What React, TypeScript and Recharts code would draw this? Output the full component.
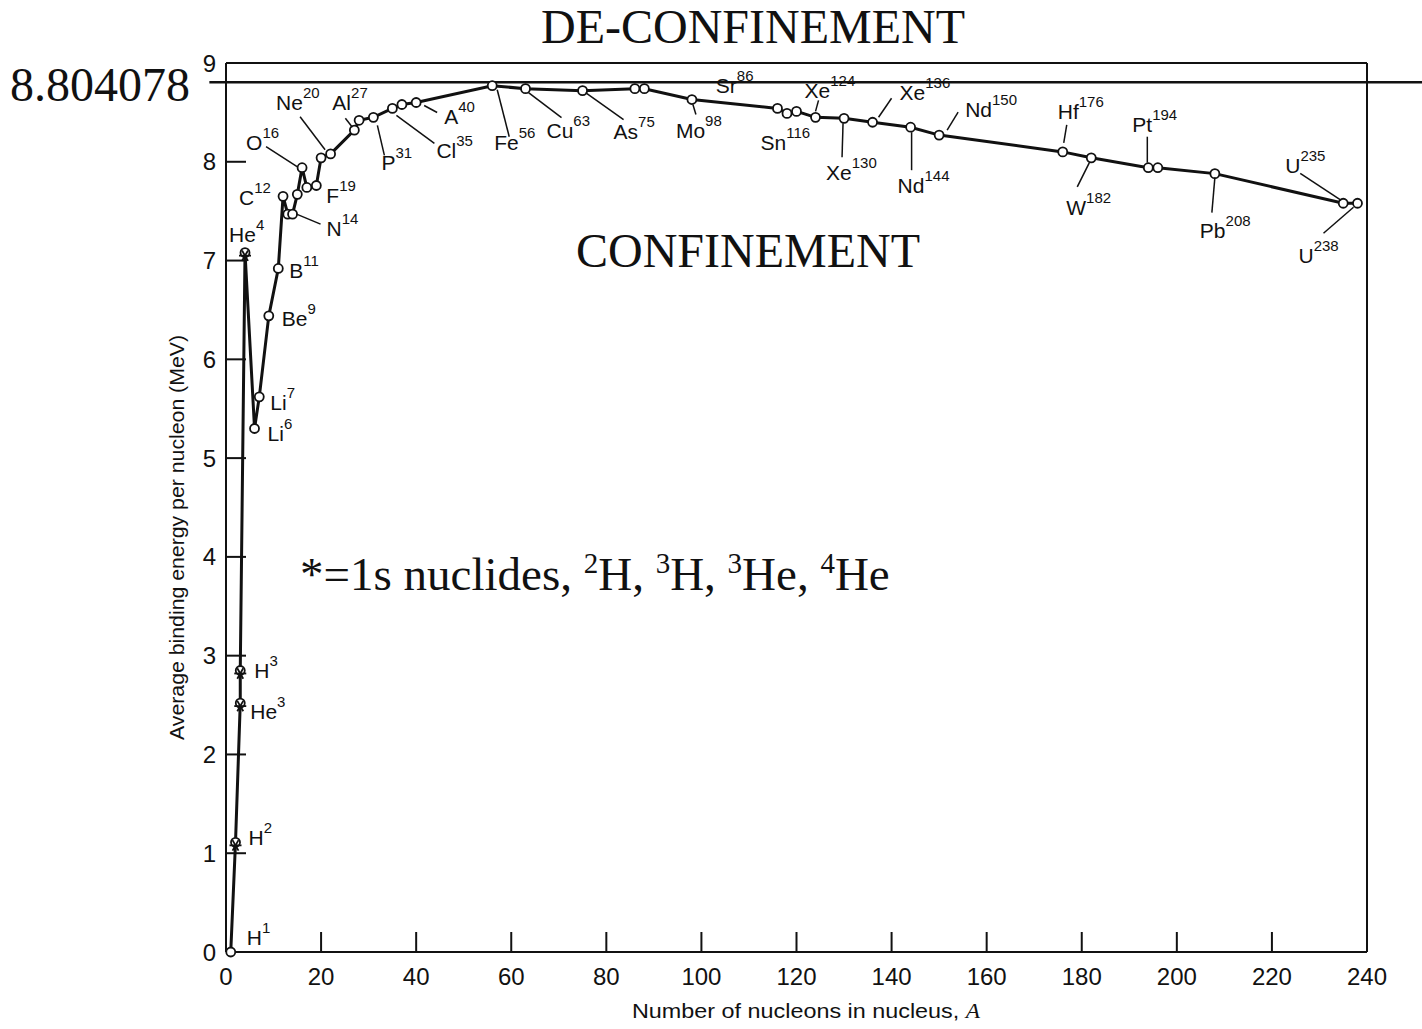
import React from "react";
import { LineChart, Line, XAxis, YAxis, ReferenceLine } from "recharts";

// nuclides along the curve, in plotting order
const symbols = ["H", "H", "He", "H", "He", "Li", "Li", "Be", "B", "C", "C", "N", "N", "O", "O", "F", "Ne", "Ne", "Al", "Si", "P", "Cl", "Cl", "A", "Fe", "Cu", "As", "Sr", "Sr", "Mo", "Sn", "Sn", "Sn", "Xe", "Xe", "Xe", "Nd", "Nd", "Hf", "W", "Pt", "Pt", "Pb", "U", "U"];
const massNumbers = [1, 2, 3, 3, 4, 6, 7, 9, 11, 12, 13, 14, 15, 16, 17, 19, 20, 22, 27, 28, 31, 35, 37, 40, 56, 63, 75, 86, 88, 98, 116, 118, 120, 124, 130, 136, 144, 150, 176, 182, 194, 196, 208, 235, 238];
const bindingEnergy = [0, 1.11, 2.52, 2.85, 7.08, 5.3, 5.62, 6.44, 6.92, 7.65, 7.47, 7.47, 7.67, 7.94, 7.74, 7.76, 8.04, 8.08, 8.32, 8.42, 8.45, 8.54, 8.58, 8.6, 8.77, 8.74, 8.72, 8.74, 8.74, 8.63, 8.54, 8.49, 8.51, 8.45, 8.44, 8.4, 8.35, 8.27, 8.1, 8.04, 7.94, 7.94, 7.88, 7.58, 7.58];
const oneSNuclides = ["H2", "H3", "He3", "He4"];

const xTicks = [0, 20, 40, 60, 80, 100, 120, 140, 160, 180, 200, 220, 240];
const yTicks = [0, 1, 2, 3, 4, 5, 6, 7, 8, 9];
const confinementLimit = 8.804078;

const data = massNumbers.map((a, i) => ({
  name: symbols[i] + a,
  symbol: symbols[i],
  a,
  e: bindingEnergy[i],
}));

// label placement relative to the marker (px): text offset and optional leader line
const labelLayout: Record<string, { dx: number; dy: number; lead?: number[] }> = {
  H1: { dx: 16, dy: -7 },
  H2: { dx: 13, dy: 3 },
  H3: { dx: 14, dy: 8 },
  He3: { dx: 10, dy: 16 },
  He4: { dx: -16, dy: -11 },
  Li6: { dx: 13, dy: 13 },
  Li7: { dx: 11, dy: 13 },
  Be9: { dx: 13, dy: 10 },
  B11: { dx: 11, dy: 10 },
  C12: { dx: -44, dy: 9 },
  N14: { dx: 34, dy: 22, lead: [28, 10, 4, 0] },
  O16: { dx: -56, dy: -18, lead: [-36, -21, -5, -1] },
  F19: { dx: 10, dy: 18 },
  Ne20: { dx: -45, dy: -48, lead: [-21, -41, 4, -8] },
  Al27: { dx: -22, dy: -20, lead: [-9, -12, -2, -3] },
  P31: { dx: 8, dy: 53, lead: [11, 38, 4, 8] },
  Cl35: { dx: 44, dy: 50, lead: [42, 35, 4, 7] },
  A40: { dx: 28, dy: 21, lead: [21, 10, 8, 3] },
  Fe56: { dx: 2, dy: 64, lead: [17, 51, 5, 4] },
  Cu63: { dx: 21, dy: 49, lead: [36, 29, 3, 4] },
  As75: { dx: 31, dy: 48, lead: [41, 29, 3, 2] },
  Sr86: { dx: 81, dy: 4 },
  Mo98: { dx: -16, dy: 38, lead: [4, 15, 1, 5] },
  Sn116: { dx: -17, dy: 42 },
  Xe124: { dx: -11, dy: -19, lead: [3, -17, 0, -6] },
  Xe130: { dx: -18, dy: 62, lead: [-1, 5, -2, 39] },
  Xe136: { dx: 27, dy: -22, lead: [19, -24, 6, -5] },
  Nd144: { dx: -13, dy: 66, lead: [1, 5, 1, 43] },
  Nd150: { dx: 26, dy: -18, lead: [19, -23, 8, -5] },
  Hf176: { dx: -5, dy: -33, lead: [4, -27, 1, -9] },
  W182: { dx: -25, dy: 57, lead: [-14, 29, -2, 5] },
  Pt194: { dx: -16, dy: -36, lead: [-1, -31, -1, -5] },
  Pb208: { dx: -15, dy: 64, lead: [-3, 39, 0, 4] },
  U235: { dx: -58, dy: -30, lead: [-43, -30, -2, -3] },
  U238: { dx: -59, dy: 60, lead: [-34, 30, -4, 4] },
};

const ink = "#111";
const sans = "'Liberation Sans', Arial, sans-serif";
const serif = "'Liberation Serif', 'Times New Roman', serif";

function NuclideDot(props: any) {
  const { cx, cy, payload, index } = props;
  if (cx == null || cy == null) return <g key={index} />;
  const lay = labelLayout[payload.name];
  const star = oneSNuclides.includes(payload.name);
  const s = 6;
  return (
    <g key={index}>
      <circle cx={cx} cy={cy} r={4.5} fill="#fff" stroke={ink} strokeWidth={1.8} />
      {star && (
        <g stroke={ink} strokeWidth={1.8}>
          <line x1={cx - s} y1={cy + 3} x2={cx + s} y2={cy + 3} />
          <line x1={cx - s * 0.5} y1={cy + 3 - s * 0.87} x2={cx + s * 0.5} y2={cy + 3 + s * 0.87} />
          <line x1={cx + s * 0.5} y1={cy + 3 - s * 0.87} x2={cx - s * 0.5} y2={cy + 3 + s * 0.87} />
        </g>
      )}
      {lay && lay.lead && (
        <line
          x1={cx + lay.lead[0]}
          y1={cy + lay.lead[1]}
          x2={cx + lay.lead[2]}
          y2={cy + lay.lead[3]}
          stroke={ink}
          strokeWidth={1.5}
        />
      )}
      {lay && (
        <text x={cx + lay.dx} y={cy + lay.dy} fontSize={21} fontFamily={sans} fill={ink}>
          {payload.symbol}
          <tspan dy={-12} fontSize={15}>{payload.a}</tspan>
        </text>
      )}
    </g>
  );
}

export default function App() {
  const axisLine = { stroke: ink, strokeWidth: 2 };
  const tickFont = { fontSize: 24, fill: ink, fontFamily: sans };
  return (
    <div style={{ position: "absolute", left: 0, top: 0, width: 1422, height: 1029, background: "#fff" }}>
      <LineChart width={1422} height={1029} data={data} margin={{ top: 53, right: 45, bottom: 37, left: 166 }}>
        <XAxis
          xAxisId="b"
          dataKey="a"
          type="number"
          domain={[0, 240]}
          ticks={xTicks}
          interval={0}
          height={40}
          tickSize={-20}
          tickMargin={36}
          tick={tickFont}
          axisLine={axisLine}
          tickLine={axisLine}
        />
        <XAxis
          xAxisId="t"
          orientation="top"
          dataKey="a"
          type="number"
          domain={[0, 240]}
          ticks={xTicks}
          interval={0}
          height={10}
          tickSize={-19}
          tick={false}
          axisLine={axisLine}
          tickLine={axisLine}
        />
        <YAxis
          yAxisId="l"
          type="number"
          domain={[0, 9]}
          ticks={yTicks}
          interval={0}
          width={60}
          tickSize={-20}
          tickMargin={30}
          tick={tickFont}
          axisLine={axisLine}
          tickLine={axisLine}
        />
        <YAxis
          yAxisId="r"
          orientation="right"
          type="number"
          domain={[0, 9]}
          ticks={yTicks}
          interval={0}
          width={10}
          tickSize={-20}
          tick={false}
          axisLine={axisLine}
          tickLine={axisLine}
        />
        <ReferenceLine
          xAxisId="b"
          yAxisId="l"
          segment={[
            { x: -3.5, y: confinementLimit },
            { x: 252, y: confinementLimit },
          ]}
          ifOverflow="visible"
          stroke={ink}
          strokeWidth={2.5}
        />
        <Line
          xAxisId="b"
          yAxisId="l"
          dataKey="e"
          type="linear"
          stroke={ink}
          strokeWidth={3}
          dot={NuclideDot}
          activeDot={false}
          isAnimationActive={false}
        />
      </LineChart>
      <svg width={1422} height={1029} style={{ position: "absolute", left: 0, top: 0, pointerEvents: "none" }}>
        <text x={753} y={43} textAnchor="middle" fontSize={48} fontFamily={serif} fill={ink}>
          DE-CONFINEMENT
        </text>
        <text x={10} y={101} fontSize={48} fontFamily={serif} fill={ink}>
          {String(confinementLimit)}
        </text>
        <text x={748} y={267} textAnchor="middle" fontSize={48} fontFamily={serif} fill={ink}>
          CONFINEMENT
        </text>
        <text x={300} y={590} fontSize={47} fontFamily={serif} fill={ink}>
          *=1s nuclides, <tspan dy={-17} fontSize={29}>2</tspan>
          <tspan dy={17}>H, </tspan>
          <tspan dy={-17} fontSize={29}>3</tspan>
          <tspan dy={17}>H, </tspan>
          <tspan dy={-17} fontSize={29}>3</tspan>
          <tspan dy={17}>He, </tspan>
          <tspan dy={-17} fontSize={29}>4</tspan>
          <tspan dy={17}>He</tspan>
        </text>
        <text
          x={632}
          y={1018}
          fontSize={21}
          fontFamily={sans}
          fill={ink}
          textLength={348}
          lengthAdjust="spacingAndGlyphs"
        >
          Number of nucleons in nucleus, <tspan fontStyle="italic" fontFamily={serif}>A</tspan>
        </text>
        <text
          x={0}
          y={0}
          transform="translate(184 740) rotate(-90)"
          fontSize={21}
          fontFamily={sans}
          fill={ink}
          textLength={405}
          lengthAdjust="spacingAndGlyphs"
        >
          Average binding energy per nucleon (MeV)
        </text>
      </svg>
    </div>
  );
}
